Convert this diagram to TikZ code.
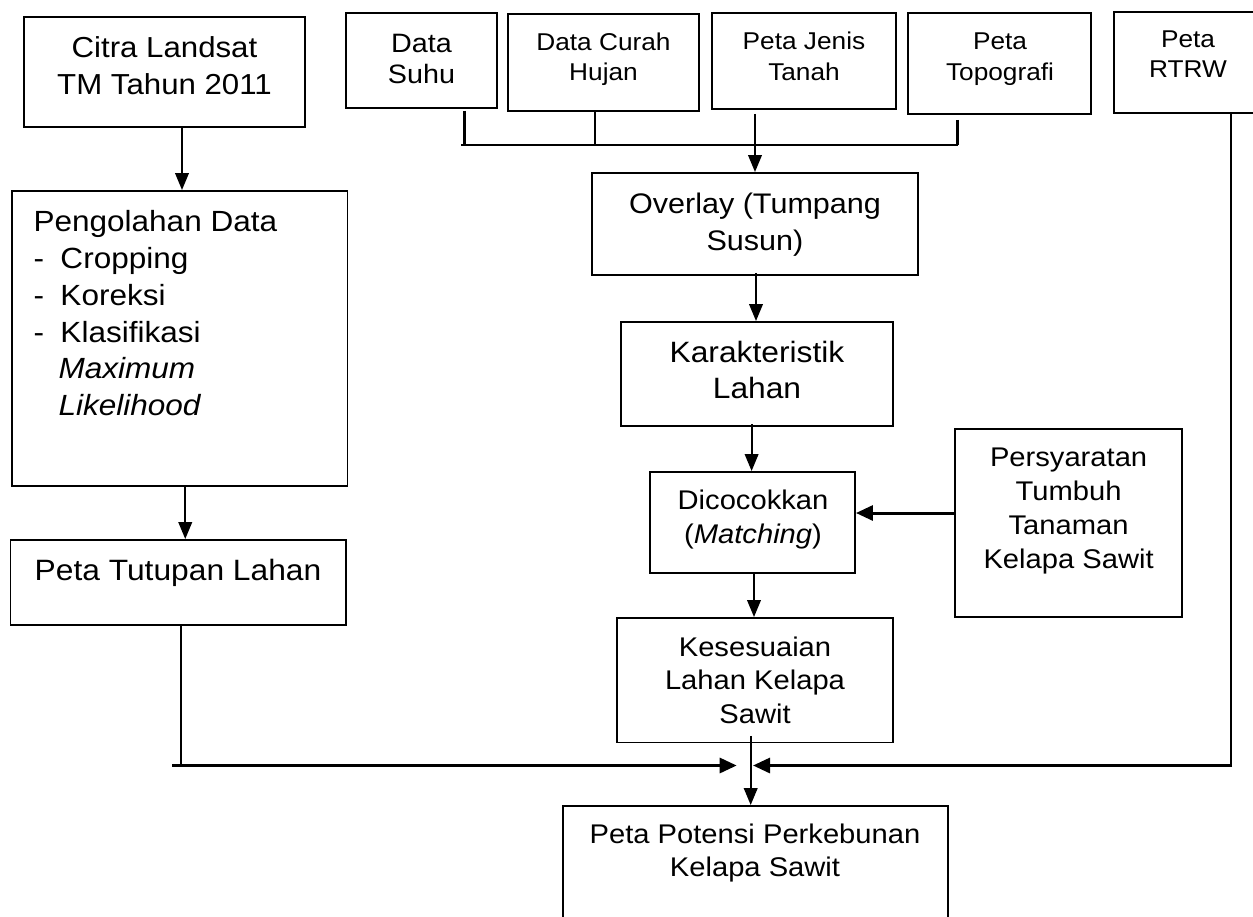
\documentclass[tikz,border=0pt]{standalone}
\usepackage{fontspec}
\setmainfont{Liberation Sans}[FakeStretch=1.08]
\usetikzlibrary{arrows.meta,fit}
\newcommand{\fsz}[2]{\fontsize{#1}{#2}\selectfont}
\begin{document}
\begin{tikzpicture}[x=1pt,y=-1pt,
  box/.style={draw=black,line width=1.9pt,inner sep=0pt,rectangle},
  txt/.style={anchor=base,inner sep=0pt},
  arr/.style={line width=2.2pt,-{Triangle[length=17pt,width=13.5pt]}},
  ln/.style={line width=2.2pt},
  thk/.style={line width=3pt},
  thkarr/.style={line width=3pt,-{Triangle[length=17pt,width=15pt]}}]
\useasboundingbox (0,0) rectangle (1253,916);

% boxes
\node[box,fit={(24,17)(305,127)}] (citra) {};
\node[box,fit={(12,191)(347.5,486)}] (pengol) {};
\node[box,fit={(10.5,540)(346,625)}] (tutup) {};
\node[box,fit={(346,12.7)(497,108)}] (suhu) {};
\node[box,fit={(508,14.3)(699,110.7)}] (curah) {};
\node[box,fit={(712,13.3)(896,108.7)}] (jenis) {};
\node[box,fit={(908,13)(1091,114)}] (topo) {};
\node[box,fit={(1114,12)(1262,113)}] (rtrw) {};
\node[box,fit={(592,173)(918,275)}] (overlay) {};
\node[box,fit={(621,322)(893,426)}] (karak) {};
\node[box,fit={(650,472)(855,573)}] (dicoc) {};
\node[box,fit={(955,429)(1182,617)}] (persy) {};
\node[box,fit={(617,618)(893,742.5)}] (keses) {};
\node[box,fit={(563,806)(947.7,930)}] (potensi) {};

% texts
\node[txt] (citraT) at (164.5,57) {\fsz{28.9}{37}\begin{tabular}[t]{@{}c@{}}Citra Landsat\\TM Tahun 2011\end{tabular}};
\node[txt,anchor=base west] (pengolT) at (33.3,231.7) {\fsz{29.2}{36.8}\begin{tabular}[t]{@{}l@{}}Pengolahan Data\\
\makebox[27pt][l]{-}Cropping\\
\makebox[27pt][l]{-}Koreksi\\
\makebox[27pt][l]{-}Klasifikasi\\
\hspace{25pt}\textit{Maximum}\\
\hspace{25pt}\textit{Likelihood}\end{tabular}};
\node[txt] (tutupT) at (178,580) {\fsz{29.4}{36}Peta Tutupan Lahan};
\node[txt] (suhuT) at (421.5,52) {\fsz{26.6}{31}\begin{tabular}[t]{@{}c@{}}Data\\Suhu\end{tabular}};
\node[txt] (curahT) at (603.5,50) {\fsz{24.3}{30}\begin{tabular}[t]{@{}c@{}}Data Curah\\Hujan\end{tabular}};
\node[txt] (jenisT) at (804,49) {\fsz{24.3}{31}\begin{tabular}[t]{@{}c@{}}Peta Jenis\\Tanah\end{tabular}};
\node[txt] (topoT) at (1000,49) {\fsz{24.3}{31}\begin{tabular}[t]{@{}c@{}}Peta\\Topografi\end{tabular}};
\node[txt] (rtrwT) at (1188,47) {\fsz{24.3}{30}\begin{tabular}[t]{@{}c@{}}Peta\\RTRW\end{tabular}};
\node[txt] (overlayT) at (755,213) {\fsz{28.3}{37}\begin{tabular}[t]{@{}c@{}}Overlay (Tumpang\\Susun)\end{tabular}};
\node[txt] (karakT) at (757,362) {\fsz{29.4}{36}\begin{tabular}[t]{@{}c@{}}Karakteristik\\Lahan\end{tabular}};
\node[txt] (dicocT) at (753,509.3) {\fsz{27}{34}\begin{tabular}[t]{@{}c@{}}Dicocokkan\\(\textit{Matching})\end{tabular}};
\node[txt] (persyT) at (1068.6,466.7) {\fsz{27}{33.9}\begin{tabular}[t]{@{}c@{}}Persyaratan\\Tumbuh\\Tanaman\\Kelapa Sawit\end{tabular}};
\node[txt] (kesesT) at (755,656.7) {\fsz{27}{33.2}\begin{tabular}[t]{@{}c@{}}Kesesuaian\\Lahan Kelapa\\Sawit\end{tabular}};
\node[txt] (potensiT) at (755,843) {\fsz{27}{33}\begin{tabular}[t]{@{}c@{}}Peta Potensi Perkebunan\\Kelapa Sawit\end{tabular}};

% junction coordinates
\coordinate (busL) at (461,145);
\coordinate (busR) at (957.5,145);
\coordinate (jL) at (172,765.5);
\coordinate (tipL) at (736.7,765.5);
\coordinate (jR) at (1230.6,765.5);
\coordinate (jRx) at (1232,765.5);
\coordinate (tipR) at (753,765.5);

% left column
\draw[arr] ([xshift=17.5pt]citra.south) -- ([xshift=17.5pt]citra.south |- pengol.north);
\draw[arr] ([xshift=5.5pt]pengol.south) -- ([xshift=5.5pt]pengol.south |- tutup.north);
\draw[ln] ([xshift=2.75pt]tutup.south) -- ([xshift=2.75pt]tutup.south |- jL);
\draw[thkarr] (jL) -- (tipL);

% top inputs
\draw[ln] ([xshift=43pt,yshift=-2pt]suhu.south) -- ([xshift=43pt]suhu.south |- busL);
\draw[ln] ([xshift=-8.5pt]curah.south) -- ([xshift=-8.5pt]curah.south |- busL);
\draw[ln] ([xshift=-42pt,yshift=-5pt]topo.south) -- ([xshift=-42pt]topo.south |- busR);
\draw[ln] (busL) -- (busR);
\draw[arr] ([xshift=-49pt,yshift=-4.3pt]jenis.south) -- ([xshift=-49pt]jenis.south |- overlay.north);

% middle column
\draw[arr] ([xshift=1pt,yshift=3pt]overlay.south) -- ([xshift=1pt]overlay.south |- karak.north);
\draw[arr] ([xshift=-5.4pt,yshift=3pt]karak.south) -- ([xshift=-5.4pt]karak.south |- dicoc.north);
\draw[thkarr] ([yshift=10pt]persy.west) -- ([yshift=10pt]persy.west -| dicoc.east);
\draw[arr] ([xshift=1.5pt]dicoc.south) -- ([xshift=1.5pt]dicoc.south |- keses.north);
\draw[arr] ([xshift=-4.3pt,yshift=7.5pt]keses.south) -- ([xshift=-4.3pt]keses.south |- potensi.north);

% RTRW
\draw[ln] ([xshift=42.6pt]rtrw.south) -- (jR);
\draw[thkarr] (jRx) -- (tipR);
\end{tikzpicture}
\end{document}
